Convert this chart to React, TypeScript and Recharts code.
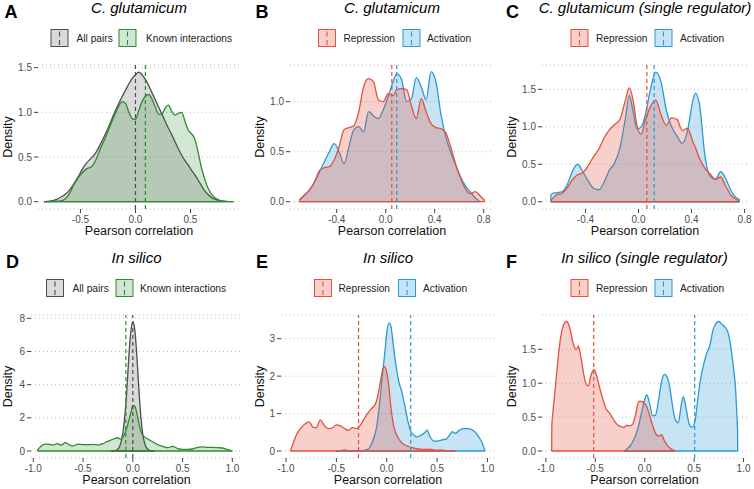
import React from 'react';
import { ComposedChart, Area, XAxis, YAxis, CartesianGrid, ReferenceLine } from 'recharts';

const FONT = '"Liberation Sans", Arial, Helvetica, sans-serif';

// ---------------- DATA ----------------
// Panel A: C. glutamicum, all pairs vs known interactions
const aX = [-0.83,-0.78,-0.73,-0.68,-0.64,-0.6,-0.56,-0.52,-0.48,-0.44,-0.4,-0.36,-0.32,-0.28,-0.24,-0.2,-0.16,-0.12,-0.09,-0.06,-0.03,0,0.03,0.06,0.09,0.12,0.15,0.18,0.21,0.24,0.27,0.3,0.33,0.36,0.39,0.42,0.45,0.48,0.51,0.54,0.57,0.6,0.63,0.66,0.7,0.74,0.78,0.83,0.89];
const aAllPairs = [0,0.005,0.02,0.05,0.08,0.13,0.2,0.28,0.37,0.44,0.49,0.55,0.64,0.74,0.85,0.97,1.08,1.18,1.25,1.32,1.38,1.42,1.45,1.42,1.37,1.3,1.22,1.14,1.06,0.98,0.9,0.82,0.75,0.67,0.59,0.52,0.46,0.41,0.35,0.3,0.24,0.18,0.12,0.08,0.04,0.02,0.008,0,null];
const aKnown = [0,0,0.005,0.01,0.03,0.09,0.19,0.27,0.33,0.37,0.39,0.47,0.59,0.7,0.82,0.94,1.05,1.12,1.1,1.0,0.93,0.92,1.02,1.12,1.18,1.2,1.15,1.06,0.98,0.98,1.05,1.08,1.01,0.97,0.99,1.0,0.9,0.8,0.76,0.7,0.55,0.38,0.25,0.15,0.07,0.03,0.01,0.003,0];
const aMeans = [0.0, 0.09];

// Panel B: C. glutamicum, repression vs activation
const bX = [-0.705,-0.66,-0.62,-0.58,-0.54,-0.5,-0.46,-0.42,-0.38,-0.34,-0.3,-0.26,-0.22,-0.18,-0.14,-0.1,-0.06,-0.02,0.02,0.06,0.09,0.13,0.17,0.21,0.25,0.29,0.33,0.37,0.41,0.45,0.49,0.53,0.57,0.61,0.65,0.69,0.73,0.77,0.81];
const bRepression = [0.01,0.07,0.12,0.2,0.31,0.34,0.35,0.42,0.55,0.72,0.74,0.76,0.9,1.15,1.23,1.2,1.02,1.0,1.08,1.06,1.12,1.13,1.12,0.96,0.83,1.03,0.9,0.78,0.74,0.73,0.69,0.55,0.38,0.24,0.13,0.08,0.1,0.06,0.01];
const bActivation = [0.02,0.07,0.12,0.2,0.3,0.4,0.5,0.58,0.5,0.38,0.55,0.72,0.75,0.7,0.9,0.86,0.83,0.92,1.05,1.2,1.28,1.22,1.0,1.03,1.24,1.15,1.02,1.3,1.2,0.88,0.65,0.5,0.37,0.25,0.16,0.1,0.04,0,null];
const bMeans = [0.05, 0.09];

// Panel C: C. glutamicum (single regulator)
const cX = [-0.662,-0.66,-0.62,-0.58,-0.54,-0.5,-0.46,-0.42,-0.38,-0.34,-0.3,-0.26,-0.22,-0.18,-0.14,-0.1,-0.07,-0.04,-0.01,0.02,0.05,0.09,0.13,0.17,0.21,0.25,0.29,0.33,0.37,0.41,0.43,0.46,0.5,0.54,0.58,0.62,0.66,0.7,0.74,0.76,0.762];
const cRepression = [null,0.02,0.09,0.11,0.18,0.29,0.36,0.39,0.48,0.6,0.7,0.85,0.96,1.03,1.1,1.35,1.52,1.35,1.0,0.9,1.08,1.27,1.36,1.16,1.02,1.12,1.1,0.95,0.98,0.8,0.72,0.58,0.45,0.37,0.3,0.33,0.2,0.08,0.03,0,null];
const cActivation = [0,0.1,0.12,0.13,0.22,0.4,0.5,0.4,0.28,0.18,0.16,0.26,0.42,0.52,0.72,1.1,1.42,1.2,0.97,1.0,1.15,1.5,1.73,1.6,1.22,1.0,0.88,0.78,0.95,1.35,1.45,1.3,0.63,0.34,0.3,0.4,0.3,0.14,0.05,0.03,0];
const cMeans = [0.063, 0.118];

// Panel D: In silico, all pairs vs known interactions
const dX = [-0.96,-0.92,-0.88,-0.84,-0.8,-0.76,-0.72,-0.68,-0.64,-0.6,-0.55,-0.5,-0.45,-0.4,-0.35,-0.3,-0.26,-0.22,-0.18,-0.15,-0.125,-0.1,-0.08,-0.06,-0.04,-0.02,0,0.02,0.04,0.06,0.08,0.1,0.125,0.15,0.18,0.22,0.26,0.3,0.35,0.4,0.45,0.5,0.55,0.6,0.65,0.7,0.75,0.8,0.85,0.9,0.95,1.0];
const dAllPairs = [null,null,null,null,null,null,null,null,null,null,null,null,null,null,null,null,null,0,0.02,0.1,0.4,1.1,2.1,3.7,5.7,7.2,7.8,7.3,5.8,3.8,2.1,1.0,0.35,0.1,0.02,0,null,null,null,null,null,null,null,null,null,null,null,null,null,null,null,null];
const dKnown = [0.03,0.3,0.42,0.4,0.36,0.45,0.35,0.5,0.38,0.3,0.42,0.38,0.38,0.4,0.36,0.45,0.56,0.66,0.76,0.8,0.72,0.82,1.05,1.4,1.85,2.3,2.75,2.7,2.3,1.7,1.2,0.95,0.82,0.72,0.62,0.48,0.36,0.28,0.2,0.28,0.15,0.1,0.1,0.12,0.22,0.25,0.22,0.22,0.2,0.18,0.08,0.01];
const dMeans = [0.0, -0.07];

// Panel E: In silico, repression vs activation
const eX = [-0.955,-0.93,-0.89,-0.85,-0.81,-0.77,-0.73,-0.7,-0.66,-0.62,-0.58,-0.54,-0.5,-0.46,-0.42,-0.38,-0.34,-0.3,-0.26,-0.22,-0.18,-0.15,-0.12,-0.1,-0.08,-0.06,-0.04,-0.02,0,0.02,0.04,0.06,0.08,0.1,0.12,0.15,0.18,0.21,0.24,0.27,0.3,0.34,0.38,0.4,0.43,0.47,0.51,0.55,0.59,0.63,0.65,0.68,0.72,0.76,0.8,0.84,0.88,0.92,0.95,0.975];
const eRepression = [0,0.2,0.47,0.62,0.73,0.78,0.63,0.62,0.83,0.68,0.6,0.62,0.7,0.67,0.6,0.55,0.63,0.6,0.7,0.88,1.04,1.14,1.22,1.35,1.6,1.9,2.18,2.25,2.1,1.75,1.2,0.8,0.55,0.42,0.32,0.22,0.16,0.13,0.1,0.08,0.06,0.05,0.04,0.04,0.05,0.03,0.02,0.02,0.01,0.01,0.005,0,null,null,null,null,null,null,null,null];
const eActivation = [null,null,null,null,null,null,null,null,null,null,null,null,0,0.01,0.03,0.01,0,0,0.01,0.02,0.06,0.2,0.42,0.65,1.05,1.55,2.1,2.6,3.15,3.42,3.35,2.95,2.5,2.15,1.85,1.58,1.2,0.8,0.52,0.42,0.38,0.42,0.5,0.56,0.38,0.26,0.27,0.3,0.32,0.45,0.52,0.47,0.55,0.6,0.6,0.58,0.5,0.35,0.2,0];
const eMeans = [-0.28, 0.238];

// Panel F: In silico (single regulator)
const fX = [-0.941,-0.94,-0.93,-0.91,-0.89,-0.87,-0.85,-0.83,-0.81,-0.79,-0.77,-0.75,-0.73,-0.71,-0.69,-0.67,-0.65,-0.63,-0.61,-0.59,-0.57,-0.55,-0.53,-0.51,-0.49,-0.47,-0.45,-0.42,-0.39,-0.36,-0.33,-0.3,-0.27,-0.24,-0.21,-0.18,-0.15,-0.12,-0.09,-0.06,-0.03,0,0.02,0.05,0.08,0.11,0.14,0.17,0.2,0.23,0.26,0.28,0.31,0.34,0.37,0.39,0.42,0.45,0.48,0.51,0.54,0.57,0.6,0.63,0.66,0.69,0.72,0.75,0.78,0.81,0.84,0.87,0.9,0.92,0.93,0.94,0.941];
const fRepression = [0,0.36,0.55,0.85,1.15,1.45,1.68,1.82,1.89,1.91,1.87,1.77,1.62,1.53,1.5,1.55,1.42,1.25,1.08,0.98,0.96,1.08,1.17,1.2,1.13,1.02,0.9,0.75,0.62,0.57,0.5,0.43,0.38,0.36,0.35,0.38,0.37,0.4,0.55,0.73,0.73,0.7,0.66,0.52,0.38,0.26,0.22,0.24,0.15,0.08,0.04,0.02,0,null,null,null,null,null,null,null,null,null,null,null,null,null,null,null,null,null,null,null,null,null,null,null,null];
const fActivation = [null,null,null,null,null,null,null,null,null,null,null,null,null,null,null,null,null,null,null,null,null,null,null,null,null,null,null,null,null,null,null,null,null,null,0,0.03,0.07,0.14,0.24,0.38,0.58,0.76,0.83,0.7,0.52,0.53,0.75,1.02,1.13,1.08,0.88,0.68,0.46,0.42,0.68,0.8,0.62,0.4,0.35,0.45,0.8,1.1,1.3,1.45,1.56,1.78,1.88,1.91,1.87,1.83,1.76,1.55,1.2,0.9,0.6,0.28,0];
const fMeans = [-0.516, 0.506];

// Text
const letters = ['A', 'B', 'C', 'D', 'E', 'F'];
const titles = ['C. glutamicum', 'C. glutamicum', 'C. glutamicum (single regulator)', 'In silico', 'In silico', 'In silico (single regulator)'];
const pairLabels = ['All pairs', 'Known interactions'];
const regLabels = ['Repression', 'Activation'];
const xAxisTitle = 'Pearson correlation';
const yAxisTitle = 'Density';

// Ticks
const xTicksA = [-0.5, 0, 0.5];
const xTicksBC = [-0.4, 0, 0.4, 0.8];
const xTicksDEF = [-1, -0.5, 0, 0.5, 1];
const yTicksA = [0, 0.5, 1, 1.5];
const yTicksB = [0, 0.5, 1];
const yTicksC = [0, 0.5, 1, 1.5];
const yTicksD = [0, 2, 4, 6, 8];
const yTicksE = [0, 1, 2, 3];
const yTicksF = [0, 0.5, 1, 1.5];

// ---------------- STYLE ----------------
const GREY = '#4D4D4D';
const GREY_FILL = '#8C8C8C';
const GREEN = '#2E8B2E';
const RED = '#E4513D';
const BLUE = '#2B9AD3';

type S = { stroke: string; fill: string; alpha: number };
const greyS: S = { stroke: GREY, fill: GREY_FILL, alpha: 0.32 };
const greenS: S = { stroke: GREEN, fill: GREEN, alpha: 0.21 };
const redS: S = { stroke: RED, fill: RED, alpha: 0.27 };
const blueS: S = { stroke: BLUE, fill: BLUE, alpha: 0.27 };

const f1 = (v: number) => v.toFixed(1);
const f0 = (v: number) => String(v);

function rows(x: number[], s1: (number | null)[], s2: (number | null)[]) {
  return x.map((v, i) => ({ x: v, s1: s1[i], s2: s2[i] }));
}
function extent(x: number[], s: (number | null)[]) {
  let a = -1, b = -1;
  s.forEach((v, i) => { if (v !== null && v !== undefined) { if (a < 0) a = i; b = i; } });
  return [x[a], x[b]];
}

const panels = [
  { rect: { l: 38, r: 240, t: 65, b: 209 }, xd: [-0.886, 0.95], yd: [-0.082, 1.53], xt: xTicksA, yt: yTicksA, yf: f1,
    x: aX, s1: aAllPairs, s2: aKnown, means: aMeans, st: [greyS, greenS], labels: pairLabels, s2first: false,
    leg: [51, 76.5, 119, 146], dens: 12 },
  { rect: { l: 290, r: 494, t: 65, b: 209 }, xd: [-0.781, 0.884], yd: [-0.073, 1.367], xt: xTicksBC, yt: yTicksB, yf: f1,
    x: bX, s1: bRepression, s2: bActivation, means: bMeans, st: [redS, blueS], labels: regLabels, s2first: true,
    leg: [318.5, 343.5, 403, 427], dens: 264 },
  { rect: { l: 542, r: 748, t: 65, b: 209 }, xd: [-0.728, 0.826], yd: [-0.097, 1.825], xt: xTicksBC, yt: yTicksC, yf: f1,
    x: cX, s1: cRepression, s2: cActivation, means: cMeans, st: [redS, blueS], labels: regLabels, s2first: true,
    leg: [571, 596, 655, 680], dens: 516 },
  { rect: { l: 31, r: 242, t: 315, b: 458 }, xd: [-1.023, 1.097], yd: [-0.422, 8.2], xt: xTicksDEF, yt: yTicksD, yf: f0,
    x: dX, s1: dAllPairs, s2: dKnown, means: dMeans, st: [greyS, greenS], labels: pairLabels, s2first: false,
    leg: [46.5, 72.5, 116, 140], dens: 11.5 },
  { rect: { l: 281, r: 495, t: 315, b: 458 }, xd: [-1.05, 1.075], yd: [-0.187, 3.633], xt: xTicksDEF, yt: yTicksE, yf: f0,
    x: eX, s1: eRepression, s2: eActivation, means: eMeans, st: [redS, blueS], labels: regLabels, s2first: true,
    leg: [314.5, 338.5, 398.5, 423], dens: 263.5 },
  { rect: { l: 542, r: 747, t: 315, b: 458 }, xd: [-1.039, 1.035], yd: [-0.103, 2.006], xt: xTicksDEF, yt: yTicksF, yf: f1,
    x: fX, s1: fRepression, s2: fActivation, means: fMeans, st: [redS, blueS], labels: regLabels, s2first: true,
    leg: [571, 596, 655, 680], dens: 516 },
];

const tickStyle = { fontSize: 10, fill: '#4D4D4D', fontFamily: FONT };

function Panel({ p }: { p: any }) {
  const { rect } = p;
  const w = rect.r - rect.l + 45;
  const h = rect.b - rect.t + 45;
  const data = rows(p.x, p.s1, p.s2);
  const keys = p.s2first ? ['s2', 's1'] : ['s1', 's2'];
  const styleFor = (k: string) => (k === 's1' ? p.st[0] : p.st[1]);
  const exts: Record<string, number[]> = { s1: extent(p.x, p.s1), s2: extent(p.x, p.s2) };
  return (
    <div style={{ position: 'absolute', left: rect.l - 40, top: rect.t - 5 }}>
      <ComposedChart width={w} height={h} data={data} margin={{ top: 5, right: 5, bottom: 0, left: 0 }}>
        <CartesianGrid vertical={false} stroke="#BDBDBD" strokeDasharray="1 3" />
        <XAxis dataKey="x" type="number" domain={p.xd} ticks={p.xt} allowDataOverflow interval={0}
          axisLine={false} tickLine={{ stroke: '#444' }} tickSize={4} tickMargin={3} height={40}
          tick={tickStyle} tickFormatter={f1} />
        <YAxis type="number" domain={p.yd} ticks={p.yt} allowDataOverflow interval={0}
          axisLine={false} tickLine={{ stroke: '#444' }} tickSize={4} tickMargin={2} width={40}
          tick={tickStyle} tickFormatter={p.yf} />
        {keys.map((k) => {
          const s = styleFor(k);
          return (
            <Area key={k} dataKey={k} type="monotone" stroke={s.stroke} strokeWidth={1.3} fill={s.fill}
              fillOpacity={s.alpha} baseValue={0} isAnimationActive={false} dot={false} activeDot={false}
              connectNulls={false} />
          );
        })}
        {keys.map((k) => {
          const s = styleFor(k);
          return (
            <ReferenceLine key={'b' + k} segment={[{ x: exts[k][0], y: 0 }, { x: exts[k][1], y: 0 }]}
              stroke={s.stroke} strokeWidth={1.3} />
          );
        })}
        {['s1', 's2'].map((k, i) => (
          <ReferenceLine key={'m' + k} x={p.means[i]} stroke={styleFor(k).stroke} strokeWidth={1.2}
            strokeDasharray="4 3" />
        ))}
      </ComposedChart>
    </div>
  );
}

function Overlay() {
  return (
    <svg width={754} height={489} style={{ position: 'absolute', left: 0, top: 0, pointerEvents: 'none' }}
      fontFamily={FONT}>
      {panels.map((p, i) => {
        const row = i < 3 ? 0 : 250;
        const cx = (p.rect.l + p.rect.r) / 2;
        const cy = (p.rect.t + p.rect.b) / 2;
        const panelX = [4.5, 255.5, 506, 6, 256, 506][i];
        const boxTop = 29.5 + row;
        return (
          <g key={i}>
            <text x={panelX} y={17.5 + row} fontSize={18} fontWeight="bold" fill="#000">{letters[i]}</text>
            <text x={cx} y={13 + row} fontSize={15} fontStyle="italic" textAnchor="middle" fill="#000">{titles[i]}</text>
            {[0, 1].map((j) => {
              const s = p.st[j];
              const bx = p.leg[j * 2];
              const tx = p.leg[j * 2 + 1];
              return (
                <g key={j}>
                  <rect x={bx} y={boxTop} width={17} height={17} fill="#fff" />
                  <rect x={bx} y={boxTop} width={17} height={17} fill={s.fill} fillOpacity={s.alpha}
                    stroke={s.stroke} strokeWidth={1} />
                  <line x1={bx + 8.5} x2={bx + 8.5} y1={boxTop + 2} y2={boxTop + 17} stroke={s.stroke}
                    strokeWidth={1.1} strokeDasharray="5 3.5" />
                  <text x={tx} y={boxTop + 12} fontSize={10.2} fill="#222">{p.labels[j]}</text>
                </g>
              );
            })}
            <text x={cx} y={(i < 3 ? 235 : 484)} fontSize={12.5} textAnchor="middle" fill="#111">{xAxisTitle}</text>
            <text x={p.dens} y={cy} fontSize={12.5} textAnchor="middle" fill="#111"
              transform={`rotate(-90 ${p.dens} ${cy})`}>{yAxisTitle}</text>
          </g>
        );
      })}
    </svg>
  );
}

export default function App() {
  return (
    <div style={{ position: 'relative', width: 754, height: 489, background: '#fff', overflow: 'hidden', fontFamily: FONT }}>
      <style>{'body{margin:0;}'}</style>
      {panels.map((p, i) => (
        <Panel key={i} p={p} />
      ))}
      <Overlay />
    </div>
  );
}
